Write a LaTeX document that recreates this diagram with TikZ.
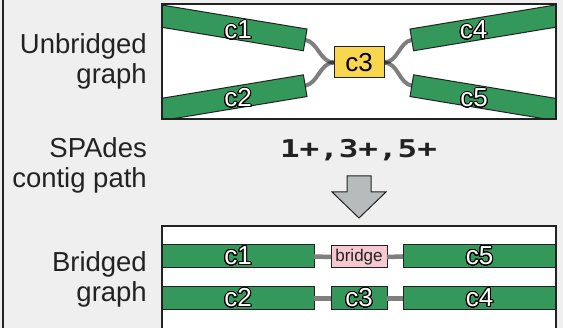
\documentclass[tikz,border=0pt]{standalone}
\usepackage{fontspec}
\setmainfont{Liberation Sans}
\newfontfamily\codefont{DejaVu Sans Mono}
\usepackage{contour}
\contourlength{1pt}
\contournumber{32}
\newcommand\olab[1]{\contour{black}{#1}}
\definecolor{bggray}{HTML}{EFEFEF}
\definecolor{ink}{HTML}{222222}
\definecolor{contig}{HTML}{33985A}
\definecolor{hub}{HTML}{F8D64E}
\definecolor{bridgefill}{HTML}{F7C8CF}
\definecolor{arrowfill}{HTML}{B8BBBB}
\definecolor{linkgray}{HTML}{7F7F7F}
\tikzset{
  panel/.style={draw=ink, line width=1.3pt},
  bar/.style={draw=ink, fill=contig, line width=1pt, inner sep=0pt, outer sep=0pt,
    minimum height=22pt},
  hubbox/.style={draw=ink, fill=hub, line width=1pt, inner sep=0pt, outer sep=0pt,
    minimum width=50pt, minimum height=31pt, font=\fontsize{26}{26}\selectfont, text=black},
  olabel/.style={inner sep=0pt, text=white, font=\fontsize{26}{26}\selectfont},
  sidelabel/.style={inner sep=0pt, align=right, anchor=east, text=ink,
    font=\fontsize{27.5}{30}\selectfont},
  curvelink/.style={line width=4pt, black, opacity=0.5},
  link/.style={line width=4.5pt, linkgray},
}
\begin{document}
\begin{tikzpicture}[x=1pt,y=1pt]
\useasboundingbox (0,0) rectangle (563,328);
\clip (0,0) rectangle (563,328);
\fill[bggray] (0,0) rectangle (563,328);
\draw[ink, line width=2.5pt] (2.75,-2) -- (2.75,330);

% ---- unbridged graph panel ----
\fill[white] (162,209) rectangle (556,324);
\begin{scope}
  \clip (162,209) rectangle (556,324);
  % links first, contigs drawn over their ends
  \coordinate (e1) at (305.2,288.1);
  \coordinate (e2) at (305.2,242.3);
  \coordinate (e4) at (411.8,288.1);
  \coordinate (e5) at (411.8,242.3);
  \coordinate (hw) at (334,265.5);
  \coordinate (he) at (384,265.5);
  \draw[curvelink] (e1) .. controls +(-9.4:13) and +(180:14) .. (hw);
  \draw[curvelink] (e2) .. controls +(9.4:13) and +(180:14) .. (hw);
  \draw[curvelink] (e4) .. controls +(189.4:13) and +(0:14) .. (he);
  \draw[curvelink] (e5) .. controls +(170.6:13) and +(0:14) .. (he);
  \node[bar, minimum width=300pt, rotate=-9.4, anchor=east] (c1) at (e1) {};
  \node[bar, minimum width=300pt, rotate=9.4, anchor=east] (c2) at (e2) {};
  \node[bar, minimum width=300pt, rotate=9.4, anchor=west] (c4) at (e4) {};
  \node[bar, minimum width=300pt, rotate=-9.4, anchor=west] (c5) at (e5) {};
  \node[hubbox] (c3) at (359,265.5) {c3};
\end{scope}
\node[olabel, anchor=base] (t1) at (238,289) {\olab{c1}};
\node[olabel, anchor=base] (t2) at (238,221) {\olab{c2}};
\node[olabel, anchor=base] (t4) at (473.5,289) {\olab{c4}};
\node[olabel, anchor=base] (t5) at (474,221) {\olab{c5}};
\draw[panel] (162,209) rectangle (556,324);

% ---- side labels ----
\node[sidelabel] (lu) at (147,267) {Unbridged\\graph};
\node[sidelabel] (ls) at (147,162.8) {SPAdes\\contig path};
\node[sidelabel] (lb) at (147,49) {Bridged\\graph};

% ---- contig path and arrow ----
\node[inner sep=0pt, anchor=base, text=ink,
  font=\codefont\bfseries\fontsize{24.5}{24.5}\selectfont] (path) at (358.5,170.7)
  {\scalebox{1.33}[1]{1+,3+,5+}};
\draw[ink, fill=arrowfill, line width=1pt, line join=miter]
  (347,152) -- (371,152) -- (371,136) -- (386,136) -- (359,110)
  -- (332,136) -- (347,136) -- cycle;

% ---- bridged graph panel ----
\fill[white] (162,-10) rectangle (556,102);
\begin{scope}[every node/.append style={olabel}]
  \node[bar, minimum width=152pt, minimum height=23pt] (b1) at (238,71.5) {\olab{c1}};
  \node[bar, fill=bridgefill, minimum width=56pt, minimum height=22pt,
    text=ink, font=\fontsize{17}{17}\selectfont] (bb) at (359,71) {bridge};
  \node[bar, minimum width=153pt, minimum height=23pt] (b5) at (479.5,71.5) {\olab{c5}};
  \node[bar, minimum width=152pt, minimum height=23pt] (b2) at (238,29.5) {\olab{c2}};
  \node[bar, minimum width=56pt, minimum height=23pt] (b3) at (359,29.5) {\olab{c3}};
  \node[bar, minimum width=153pt, minimum height=23pt] (b4) at (479.5,29.5) {\olab{c4}};
\end{scope}
\draw[link] (b1.east) -- (bb.west);
\draw[link] (bb.east) -- (b5.west);
\draw[link] (b2.east) -- (b3.west);
\draw[link] (b3.east) -- (b4.west);
\draw[panel] (162,-10) rectangle (556,102);
\end{tikzpicture}
\end{document}
